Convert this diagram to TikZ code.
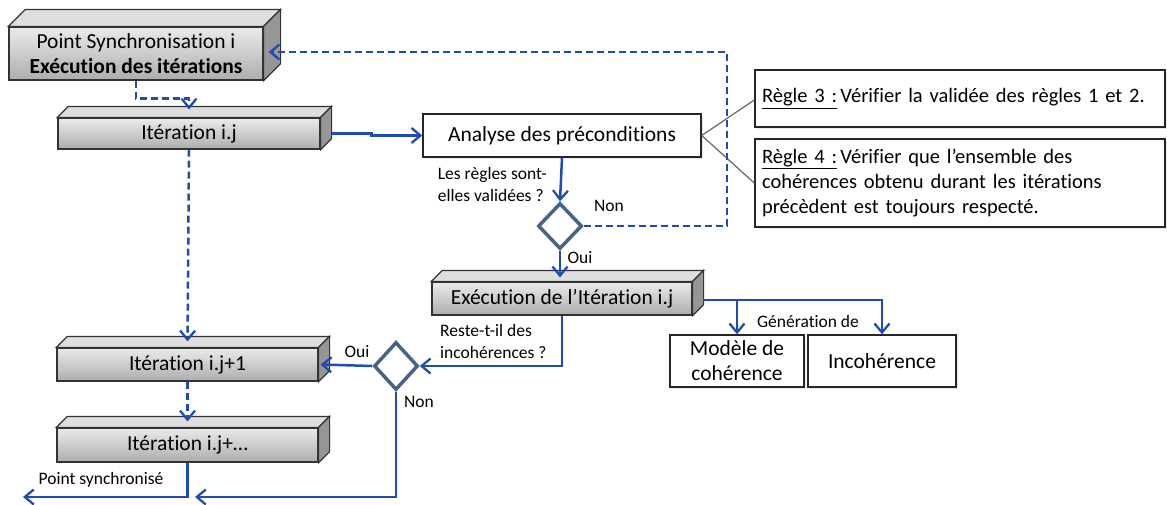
\documentclass[tikz,border=0pt]{standalone}
\usepackage{fontspec}
\setmainfont{Carlito}[Ligatures={NoCommon}]
\usetikzlibrary{arrows.meta,shapes.geometric,calc,shadows}
\definecolor{arrblue}{RGB}{30,75,180}
\definecolor{dia}{RGB}{70,100,135}
\definecolor{topf}{RGB}{222,222,222}
\definecolor{sidef}{RGB}{150,150,150}
\tikzset{
  front/.style={draw=black!80,line width=1.2pt,top color=white!92!black,bottom color=black!32,minimum width=#1,inner sep=0pt,align=center,font=\fontsize{21.5}{25}\selectfont},
  topface/.style={draw=black!80,line width=1.2pt,fill=topf},
  sideface/.style={draw=black!80,line width=1.2pt,fill=sidef},
  softshadow/.style={drop shadow={opacity=0.18,shadow xshift=2pt,shadow yshift=-2pt}},
  plainbox/.style={draw=black!85,line width=1.4pt,fill=white,inner sep=0pt,font=\fontsize{21.5}{25}\selectfont,align=center,softshadow},
  rulebox/.style={draw=black!85,line width=1.4pt,fill=white,inner sep=0pt,minimum width=410pt,text width=396pt,align=left,font=\fontsize{20.5}{25}\selectfont,softshadow},
  decision/.style={diamond,draw=dia,line width=3.5pt,fill=white,minimum width=44pt,minimum height=46pt,inner sep=0pt},
  arr/.style={draw=arrblue,line width=2.5pt,-{Straight Barb[length=9pt,width=15pt,line width=2.3pt]}},
  darr/.style={arr,dash pattern=on 7pt off 4pt},
  conn/.style={draw=black!60,line width=1.2pt},
  lbl/.style={font=\fontsize{17.5}{22}\selectfont,inner sep=0pt,align=left}
}
\newcommand{\boxdepth}[2]{%
  \draw[topface] (#1.north west) -- ++(#2,-#2) -- ($(#1.north east)+(#2,-#2)$) -- (#1.north east) -- cycle;
  \draw[sideface] (#1.north east) -- ++(#2,-#2) -- ($(#1.south east)+(#2,-#2)$) -- (#1.south east) -- cycle;
}
\begin{document}
\begin{tikzpicture}[x=1pt,y=-1pt]
\useasboundingbox (0,0) rectangle (1167,504);
% 3D boxes
\node[front=254pt,minimum height=53pt] (b1) at (136,53.5) {Point Synchronisation i\\\textbf{Exécution des itérations}};
\boxdepth{b1}{17}
\node[front=262pt,minimum height=31pt] (ij) at (189,133.5) {Itération i.j};
\boxdepth{ij}{11}
\node[front=261pt,minimum height=33pt] (ij1) at (187.5,364.5) {Itération i.j+1};
\boxdepth{ij1}{11}
\node[front=261pt,minimum height=34pt] (ijd) at (187.5,445) {Itération i.j+…};
\boxdepth{ijd}{11}
\node[front=260pt,minimum height=33pt] (ex) at (562,298.5) {Exécution de l’Itération i.j};
\boxdepth{ex}{11}
% plain boxes
\node[plainbox,minimum width=278pt,minimum height=43pt] (an) at (562,135.5) {Analyse des préconditions};
\node[plainbox,minimum width=134pt,minimum height=52pt] (mo) at (737,361) {Modèle de\\cohérence};
\node[plainbox,minimum width=148pt,minimum height=52pt] (inc) at (882,361) {Incohérence};
\node[rulebox,minimum height=57pt] (r3) at (960,98.5) {\underline{Règle 3 :}\,Vérifier la validée des règles 1 et 2.};
\node[rulebox,minimum height=88pt] (r4) at (960,183) {\underline{Règle 4 :}\,Vérifier que l’ensemble des\\cohérences obtenu durant les itérations\\précèdent est toujours respecté.};
% decisions
\node[decision] (d1) at (560,226) {};
\node[decision,minimum height=48pt] (d2) at (396,366) {};
% connectors
\draw[conn] (an.east) -- ($(r3.west)+(0,1.5)$);
\draw[conn] (an.east) -- (r4.west);
\draw[darr] (b1.south) -- ++(0,18) -| ($(ij.north)+(0,-8)$);
\draw[arr] ($(ij.east)+(11,0)$) -- ++(40,0) |- (an.west);
\draw[arr] (an.south) -- (d1.north);
\draw[darr] (d1.east) -- (727,226) -- (727,52) -- ($(b1.east)+(5,-1.5)$);
\draw[arr] (d1.south) -- ($(d1.south |- ex.north)+(0,-4)$);
\draw[darr] (ij.south) -- ($(ij1.north)+(0,-6)$);
\draw[darr] (ij1.south) -- ($(ijd.north)+(0,-6)$);
\coordinate (exo) at ($(ex.east)+(10,1.5)$);
\draw[arr] (exo) -| (inc.north);
\draw[arr] (exo -| mo.north) -- (mo.north);
\draw[arr] (ex.south) |- (d2.east);
\draw[arr] (d2.west) -- ($(ij1.east)+(2,0)$);
\draw[arr] (d2.south) |- (195,497);
\draw[arr] (ijd.south) |- (23,497);
% labels
\node[lbl,anchor=east] (l1) at (547,184) {Les règles sont-\\elles validées ?};
\node[lbl] (n1) at (609,206) {Non};
\node[lbl] (o1) at (580,258) {Oui};
\node[lbl] (g1) at (808,321) {Génération de};
\node[lbl,anchor=west] (l2) at (440,341) {Reste-t-il des\\incohérences ?};
\node[lbl] (o2) at (357,352) {Oui};
\node[lbl] (n2) at (419,402) {Non};
\node[lbl] (ps) at (101,480) {Point synchronisé};
\end{tikzpicture}
\end{document}
